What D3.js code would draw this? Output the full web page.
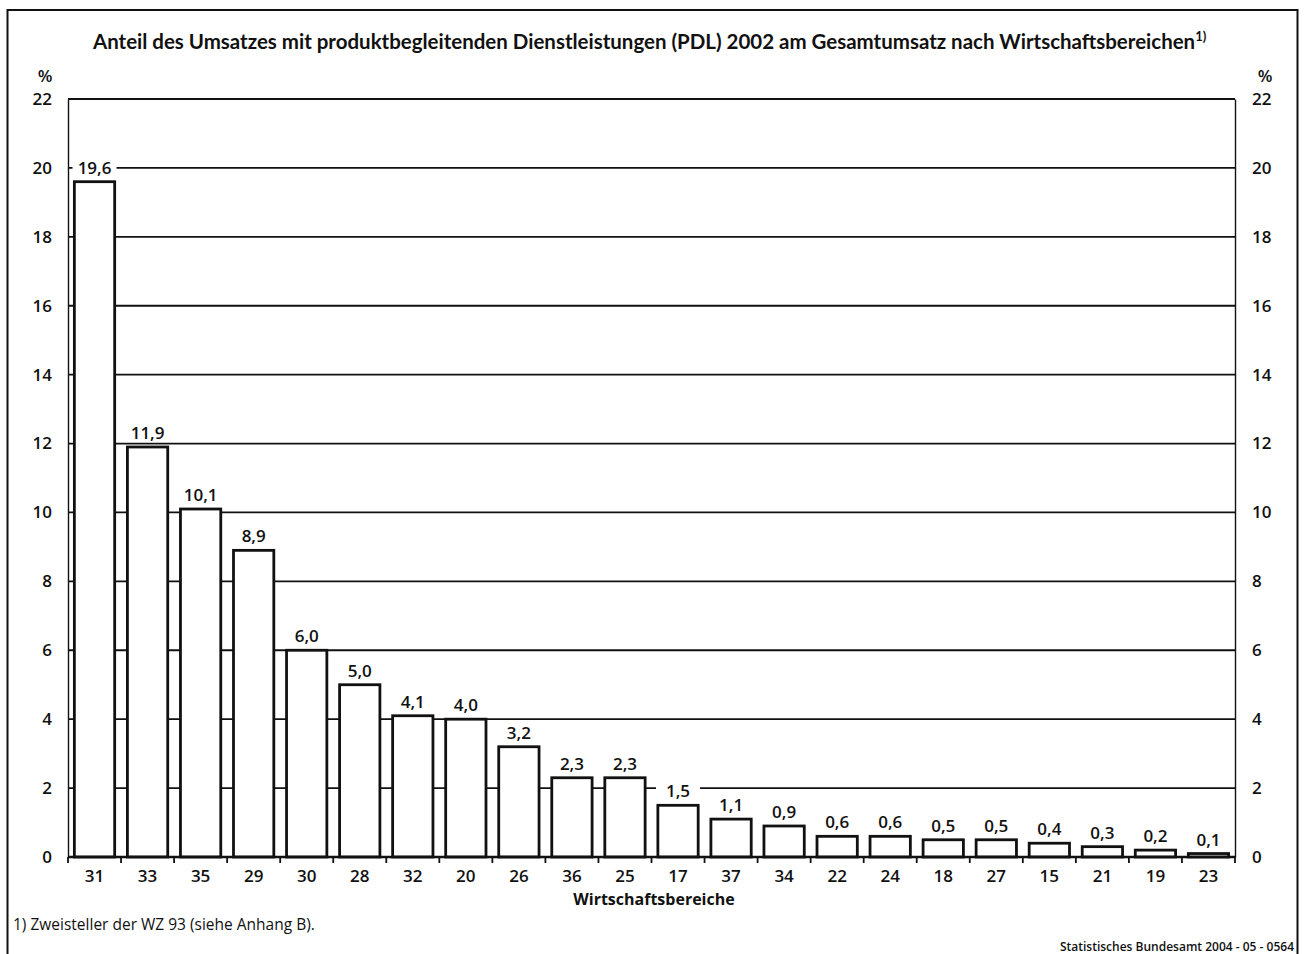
<!DOCTYPE html>
<html>
<head>
<meta charset="utf-8">
<script src="https://cdn.jsdelivr.net/npm/d3@7"></script>
<style>
  html, body { margin: 0; padding: 0; background: #fff; }
  svg { display: block; }
  text { font-family: "Open Sans", "DejaVu Sans", sans-serif; fill: #111; }
</style>
</head>
<body>
<svg id="chart" width="1304" height="954"></svg>
<script>
// Wirtschaftsbereiche (WZ 93 Zweisteller), sorted by PDL share
const categories = ["31","33","35","29","30","28","32","20","26","36","25","17","37","34","22","24","18","27","15","21","19","23"];
// Anteil des PDL-Umsatzes am Gesamtumsatz in %
const values = [19.6, 11.9, 10.1, 8.9, 6.0, 5.0, 4.1, 4.0, 3.2, 2.3, 2.3, 1.5, 1.1, 0.9, 0.6, 0.6, 0.5, 0.5, 0.4, 0.3, 0.2, 0.1];
const yTicks = [0, 2, 4, 6, 8, 10, 12, 14, 16, 18, 20, 22];

const titleText = "Anteil des Umsatzes mit produktbegleitenden Dienstleistungen (PDL) 2002 am Gesamtumsatz nach Wirtschaftsbereichen";
const xTitle = "Wirtschaftsbereiche";
const footnote = "1) Zweisteller der WZ 93 (siehe Anhang B).";
const source = "Statistisches Bundesamt 2004 - 05 - 0564";

const svg = d3.select("#chart");
const plot = { left: 68, right: 1235, top: 99, bottom: 857 };
const numFont = { size: "17px", weight: 600 };

const fmt = v => d3.format(".1f")(v).replace(".", ",");

// outer frame (bottom edge runs past the page)
svg.append("rect")
  .attr("x", 7.5).attr("y", 10).attr("width", 1290).attr("height", 960)
  .attr("fill", "none").attr("stroke", "#111").attr("stroke-width", 2);

// title with footnote marker; main line fitted to 1103px
const title = svg.append("text")
  .attr("x", 93).attr("y", 49)
  .style("font-family", "Lato, 'Open Sans', sans-serif")
  .style("font-weight", "bold").style("font-size", "20px");
const tMain = title.append("tspan").text(titleText);
const w0 = tMain.node().getComputedTextLength();
title.style("font-size", (20 * 1103 / w0).toFixed(2) + "px");
title.append("tspan").attr("dy", -8).style("font-size", "13px").text("1)");

const x = d3.scaleBand().domain(categories).range([plot.left, plot.right]).paddingInner(0.24).paddingOuter(0.12);
const y = d3.scaleLinear().domain([0, 22]).range([plot.bottom, plot.top]);

// horizontal grid
svg.append("g").selectAll("line")
  .data(yTicks.filter(d => d > 0))
  .join("line")
  .attr("x1", plot.left).attr("x2", plot.right)
  .attr("y1", d => y(d)).attr("y2", d => y(d))
  .attr("stroke", "#111").attr("stroke-width", 1.8);

// left and right value axes
const yl = svg.append("g").attr("transform", `translate(${plot.left},0)`)
  .call(d3.axisLeft(y).tickValues(yTicks).tickSize(0).tickPadding(16));
const yr = svg.append("g").attr("transform", `translate(${plot.right},0)`)
  .call(d3.axisRight(y).tickValues(yTicks).tickSize(0).tickPadding(17));
[yl, yr].forEach(g => {
  g.select(".domain").attr("stroke", "#111").attr("stroke-width", 1.4);
  g.selectAll("text")
    .style("font-size", numFont.size).style("font-weight", numFont.weight)
    .style("font-family", "'Open Sans', sans-serif").attr("fill", "#111");
});
svg.append("text").attr("x", 45).attr("y", 82).attr("text-anchor", "middle")
  .style("font-size", "17px").style("font-weight", 600).text("%");
svg.append("text").attr("x", 1265).attr("y", 82).attr("text-anchor", "middle")
  .style("font-size", "17px").style("font-weight", 600).text("%");

// bars
svg.append("g").selectAll("rect")
  .data(values)
  .join("rect")
  .attr("x", (d, i) => x(categories[i]))
  .attr("width", x.bandwidth())
  .attr("y", d => y(d))
  .attr("height", d => y(0) - y(d))
  .attr("fill", "#fff").attr("stroke", "#111").attr("stroke-width", 2.8);

// category axis with ticks between bands
const bounds = d3.range(categories.length + 1).map(i => plot.left + i * (plot.right - plot.left) / categories.length);
const xa = svg.append("g");
xa.append("line").attr("x1", plot.left).attr("x2", plot.right)
  .attr("y1", plot.bottom).attr("y2", plot.bottom)
  .attr("stroke", "#111").attr("stroke-width", 2.4);
xa.selectAll("line.tk").data(bounds).join("line").attr("class", "tk")
  .attr("x1", d => d).attr("x2", d => d)
  .attr("y1", plot.bottom).attr("y2", plot.bottom + 6)
  .attr("stroke", "#111").attr("stroke-width", 1.8);
xa.selectAll("text").data(categories).join("text")
  .attr("x", d => x(d) + x.bandwidth() / 2)
  .attr("y", 882)
  .attr("text-anchor", "middle")
  .style("font-size", numFont.size).style("font-weight", numFont.weight)
  .text(d => d);

svg.append("text").attr("x", 654).attr("y", 905).attr("text-anchor", "middle")
  .style("font-weight", "bold").style("font-size", "16px").text(xTitle);

// value labels on white knockout
const lbl = svg.append("g").selectAll("g")
  .data(values)
  .join("g")
  .attr("transform", (d, i) => `translate(${x(categories[i]) + x.bandwidth() / 2},${y(d) - 8})`);
lbl.append("rect")
  .attr("x", -22).attr("y", -16).attr("width", 44).attr("height", 19)
  .attr("fill", "#fff");
lbl.append("text")
  .attr("text-anchor", "middle")
  .style("font-size", numFont.size).style("font-weight", numFont.weight)
  .text(d => fmt(d));

// footnote and source
svg.append("text").attr("x", 13).attr("y", 930).style("font-size", "15.5px").text(footnote);
svg.append("text").attr("x", 1294).attr("y", 951).attr("text-anchor", "end")
  .style("font-size", "12px").style("font-weight", 600).text(source);
</script>
</body>
</html>
